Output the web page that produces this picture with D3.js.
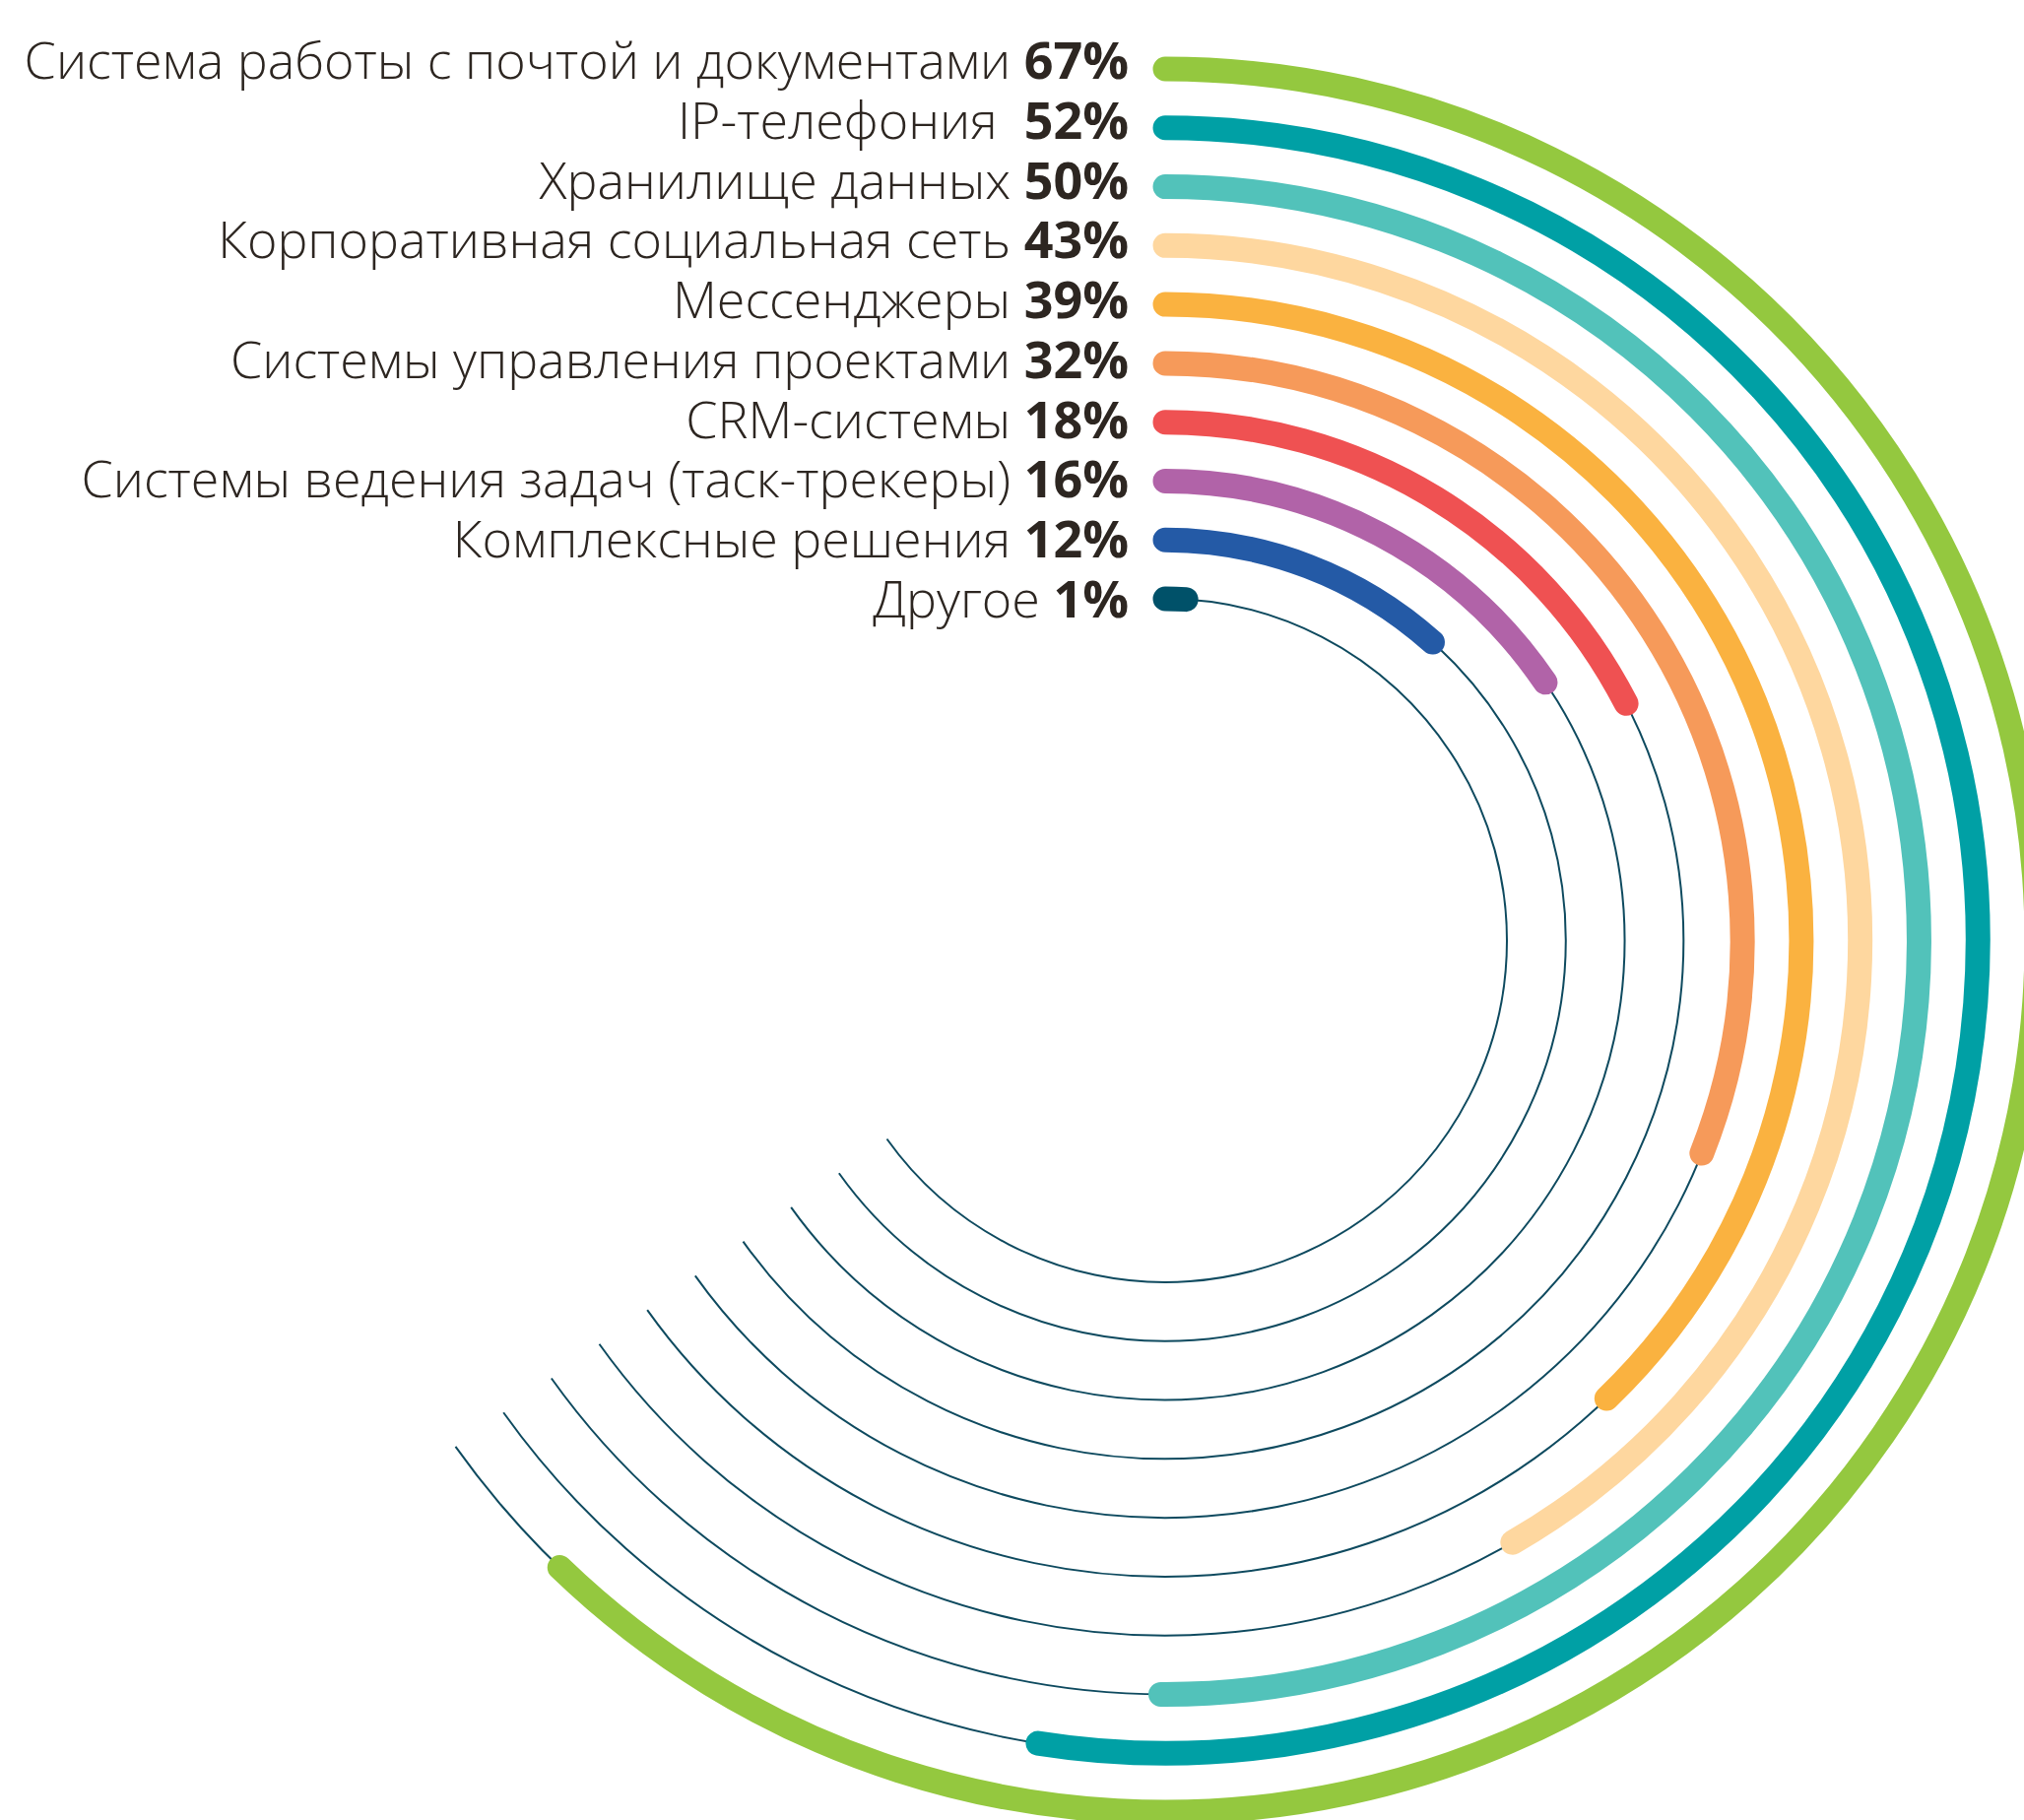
<!DOCTYPE html>
<html>
<head>
<meta charset="utf-8">
<script src="https://cdn.jsdelivr.net/npm/d3@7"></script>
<style>
  body { margin: 0; background: #fff; }
  text { font-family: 'Open Sans', sans-serif; white-space: pre; }
</style>
</head>
<body>
<svg id="chart" width="2055" height="1848"></svg>
<script>
const categories = [
  'Система работы с почтой и документами',
  'IP-телефония ',
  'Хранилище данных',
  'Корпоративная социальная сеть',
  'Мессенджеры',
  'Системы управления проектами',
  'CRM-системы',
  'Системы ведения задач (таск-трекеры)',
  'Комплексные решения',
  'Другое'
];
const values = [67, 52, 50, 43, 39, 32, 18, 16, 12, 1];
const colors = ['#94c83f', '#00a0a5', '#52c2ba', '#fed79f', '#fab240',
                '#f69a5a', '#ef5152', '#b163a8', '#245aa6', '#005169'];

const width = 2055;
const height = 1848;
const cx = 1183;
const cy = 955;
const barWidth = 25;
const deg = Math.PI / 180;
const trackEnd = 234.5 * deg;

const svg = d3.select('#chart');

// one ring per category, outermost first
const rScale = d3.scalePoint()
  .domain(categories)
  .range([885, 347]);

// label baselines run a touch wider than the rings
const yLabel = d3.scalePoint()
  .domain(categories)
  .range([80, 627]);

// percent -> clockwise angle from 12 o'clock
// (the original isn't strictly proportional, so the scale is calibrated to it)
const aScale = d3.scaleLinear()
  .domain([0, 43, 52, 67])
  .range([0, 150 * deg, 189 * deg, 224 * deg]);

const arcPath = (r, a1) => {
  const p = d3.path();
  p.arc(0, 0, r, -Math.PI / 2, -Math.PI / 2 + a1, false);
  return p.toString();
};

const data = categories.map((c, i) => ({ name: c, value: values[i], color: colors[i] }));

const g = svg.append('g')
  .attr('transform', `translate(${cx},${cy})`);

g.selectAll('.track')
  .data(data)
  .join('path')
  .attr('class', 'track')
  .attr('d', d => arcPath(rScale(d.name), trackEnd))
  .attr('fill', 'none')
  .attr('stroke', '#0e4a5f')
  .attr('stroke-width', 2);

g.selectAll('.bar')
  .data(data)
  .join('path')
  .attr('class', 'bar')
  .attr('d', d => arcPath(rScale(d.name), aScale(d.value)))
  .attr('fill', 'none')
  .attr('stroke', d => d.color)
  .attr('stroke-width', barWidth)
  .attr('stroke-linecap', 'round');

const labels = svg.selectAll('.label')
  .data(data)
  .join('text')
  .attr('class', 'label')
  .attr('x', cx - 37)
  .attr('y', d => yLabel(d.name))
  .attr('text-anchor', 'end')
  .attr('fill', '#2d2621')
  .style('font-size', '52px');

labels.append('tspan')
  .style('font-weight', 300)
  .text(d => d.name + ' ');

labels.append('tspan')
  .style('font-weight', 700)
  .text(d => d.value + '%');
</script>
</body>
</html>
